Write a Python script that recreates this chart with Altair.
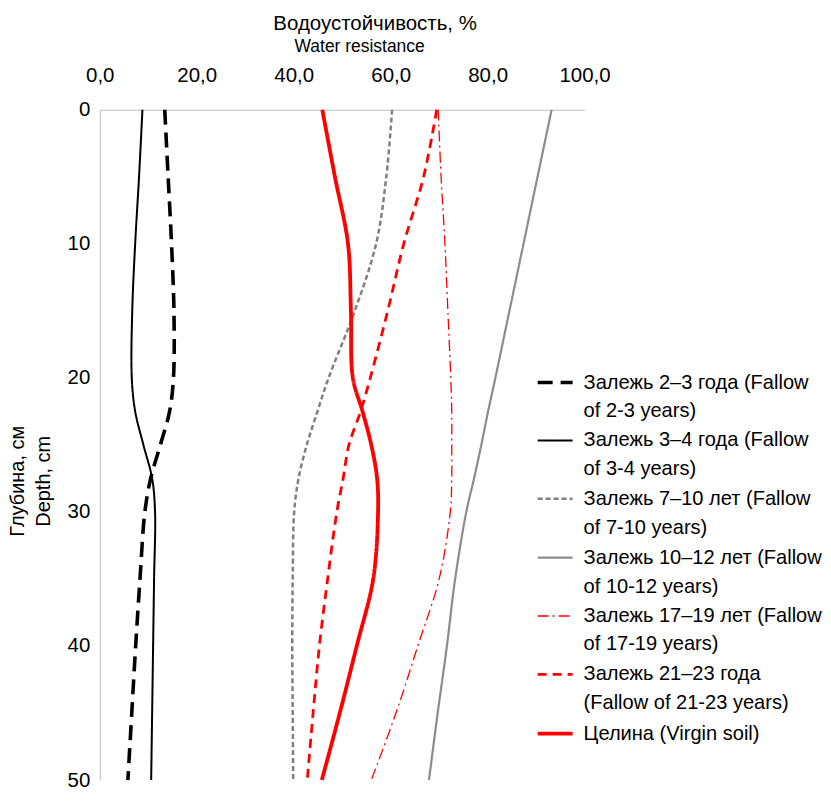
import altair as alt
import pandas as pd

# Depth, cm
depth = [0, 5, 10, 15, 20, 22.5, 25, 27.5, 30, 35, 40, 45, 50]

# Water resistance, %
fallow_2_3 = [13.4, 14.1, 14.8, 15.3, 15.2, 14.4, 12.5, 10.5, 9.3, 8.3, 7.4, 6.6, 5.8]
fallow_3_4 = [8.8, 8.1, 7.3, 6.7, 6.6, 7.3, 9.0, 10.8, 11.4, 11.2, 11.0, 10.8, 10.6]
fallow_7_10 = [60.3, 59.1, 57.0, 52.6, 47.2, 44.9, 42.7, 41.0, 40.1, 39.8, 39.7, 39.8, 39.9]
fallow_10_12 = [93.2, 90.3, 87.4, 84.5, 81.6, 80.1, 78.7, 77.2, 75.6, 73.3, 71.6, 69.7, 67.9]
fallow_17_19 = [69.8, 70.4, 71.2, 71.8, 72.4, 72.6, 72.6, 72.6, 72.3, 70.0, 65.6, 61.1, 56.0]
fallow_21_23 = [69.5, 66.8, 62.7, 59.4, 55.8, 53.8, 51.4, 50.2, 48.9, 47.0, 45.3, 44.0, 42.8]
virgin_soil = [45.9, 48.5, 51.2, 51.8, 52.2, 54.2, 56.0, 57.2, 57.4, 56.4, 53.0, 49.5, 45.8]

label_line1 = [
    "Залежь 2–3 года (Fallow",
    "Залежь 3–4 года (Fallow",
    "Залежь 7–10 лет (Fallow",
    "Залежь 10–12 лет (Fallow",
    "Залежь 17–19 лет (Fallow",
    "Залежь 21–23 года",
    "Целина (Virgin soil)",
]
label_line2 = [
    "of 2-3 years)",
    "of 3-4 years)",
    "of 7-10 years)",
    "of 10-12 years)",
    "of 17-19 years)",
    "(Fallow of 21-23 years)",
    "",
]
series_values = [fallow_2_3, fallow_3_4, fallow_7_10, fallow_10_12,
                 fallow_17_19, fallow_21_23, virgin_soil]

colors = ["#000000", "#000000", "#808080", "#8C8C8C", "#FF0000", "#FF0000", "#FF0000"]
dashes = [[15, 8], [1, 0], [5, 3], [1, 0], [11, 4, 2, 4], [9, 6], [1, 0]]
widths = [3.6, 2.0, 2.5, 2.2, 1.3, 2.8, 3.8]

x_ticks = [0, 20, 40, 60, 80, 100]
y_ticks = [0, 10, 20, 30, 40, 50]

FONT = "Liberation Sans"

names = [(a + " " + b).strip() for a, b in zip(label_line1, label_line2)]

rows = []
for name, vals in zip(names, series_values):
    for d, v in zip(depth, vals):
        rows.append({"series": name, "depth": d, "value": v})
df = pd.DataFrame(rows)

# legend domain: one row per text line (continuation rows have invisible symbols)
domain, c_range, d_range, w_range = [], [], [], []
for i, name in enumerate(names):
    domain.append(name)
    c_range.append(colors[i])
    d_range.append(dashes[i])
    w_range.append(widths[i])
    if label_line2[i]:
        domain.append(label_line2[i])
        c_range.append("transparent")
        d_range.append([1, 0])
        w_range.append(1)

expr = "datum.label"
for name, l1, l2 in reversed(list(zip(names, label_line1, label_line2))):
    if l2:
        expr = f"datum.label == '{name}' ? '{l1}' : ({expr})"

legend = alt.Legend(
    title=None, orient="none", legendX=437, legendY=254,
    symbolType="stroke", symbolSize=1225, labelFont=FONT, labelFontSize=20.1,
    labelColor="#000000", labelLimit=400, labelOffset=9, rowPadding=0,
    padding=0, labelExpr=expr,
)

chart = alt.Chart(df).mark_line(interpolate="catmull-rom", strokeCap="butt").encode(
    x=alt.X("value:Q",
            scale=alt.Scale(domain=[0, 100], nice=False, zero=False),
            axis=alt.Axis(orient="top", values=x_ticks, ticks=False, grid=False,
                          labelExpr="replace(format(datum.value, '.1f'), '.', ',')",
                          labelFont=FONT, labelFontSize=20.5, labelColor="#000000",
                          labelPadding=24, labelFlush=False, domainColor="#BFBFBF",
                          title="Water resistance", titleFont=FONT,
                          titleFontSize=17.5, titleFontWeight="normal",
                          titleColor="#000000", titleX=260, titleY=-54)),
    y=alt.Y("depth:Q",
            scale=alt.Scale(domain=[0, 50], reverse=True, nice=False),
            axis=alt.Axis(orient="left", values=y_ticks, ticks=False, grid=False,
                          labelFont=FONT, labelFontSize=20.5, labelColor="#000000",
                          labelPadding=10, domainColor="#BFBFBF",
                          title=["Глубина, см", "Depth, cm"], titleFont=FONT,
                          titleFontSize=20, titleFontWeight="normal",
                          titleColor="#000000", titleLineHeight=26,
                          titleX=-72, titleY=372, titleBaseline="bottom")),
    color=alt.Color("series:N", scale=alt.Scale(domain=domain, range=c_range), legend=legend),
    strokeDash=alt.StrokeDash("series:N", scale=alt.Scale(type="ordinal", domain=domain, range=d_range), legend=legend),
    strokeWidth=alt.StrokeWidth("series:N", scale=alt.Scale(type="ordinal", domain=domain, range=w_range), legend=legend),
    order=alt.Order("depth:Q"),
).properties(
    width=486, height=672,
    title=alt.TitleParams("Водоустойчивость, %", font=FONT, fontSize=20.5,
                          fontWeight="normal", color="#000000", dx=33, offset=3),
    autosize=alt.AutoSizeParams(type="none"),
    padding={"left": 92, "top": 101, "right": 239, "bottom": 20},
).configure_view(stroke=None)

chart.save("out.html", embed_options={"renderer": "svg", "actions": False})
